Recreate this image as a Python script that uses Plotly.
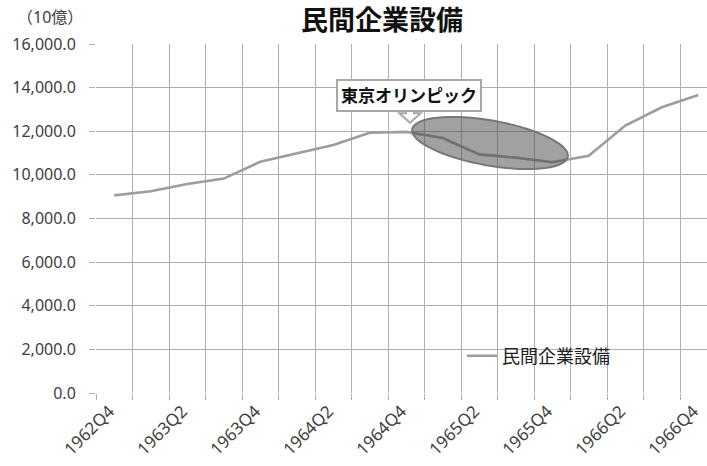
import math
import plotly.graph_objects as go

# ---- data ----
quarters = ["1962Q4", "1963Q1", "1963Q2", "1963Q3", "1963Q4", "1964Q1", "1964Q2", "1964Q3",
            "1964Q4", "1965Q1", "1965Q2", "1965Q3", "1965Q4", "1966Q1", "1966Q2", "1966Q3", "1966Q4"]
investment = [9060, 9250, 9580, 9830, 10600, 10990, 11370, 11930,
              11970, 11690, 10940, 10790, 10580, 10880, 12260, 13100, 13660]
series_name = "民間企業設備"
y_ticks = [0, 2000, 4000, 6000, 8000, 10000, 12000, 14000, 16000]

# ---- layout geometry (pixels) ----
W, H = 707, 466
L, R, T, B = 96, 0, 44, 73
PW, PH = W - L - R, H - T - B


def pp(px, py):
    """pixel -> paper coordinates"""
    return (px - L) / PW, (H - B - py) / PH


x_idx = list(range(len(quarters)))
label_idx = x_idx[::2]

font_fam = "Noto Sans, Noto Sans CJK JP, sans-serif"
grid_col = "#afafaf"

fig = go.Figure()
fig.add_trace(go.Scatter(
    x=x_idx, y=investment, mode="lines", name=series_name,
    line=dict(color="#9d9d9d", width=2.6),
))

# ellipse highlight (decorative callout)
cx, cy, a, b, th = 490, 143, 79, 22.5, math.radians(10)
pts = []
for k in range(73):
    t = 2 * math.pi * k / 72
    px = cx + a * math.cos(t) * math.cos(th) - b * math.sin(t) * math.sin(th)
    py = cy + a * math.cos(t) * math.sin(th) + b * math.sin(t) * math.cos(th)
    pts.append(pp(px, py))
path = "M " + " L ".join(f"{u:.5f},{v:.5f}" for u, v in pts) + " Z"
fig.add_shape(type="path", xref="paper", yref="paper", path=path,
              fillcolor="rgba(67,67,72,0.5)", line=dict(color="#777777", width=2), layer="above")

# down arrow under callout box
arrow_px = [(406, 109), (414, 109), (414, 113.3), (420.7, 113.3), (410, 122.7), (399.3, 113.3), (406, 113.3)]
apath = "M " + " L ".join("{:.5f},{:.5f}".format(*pp(u, v)) for u, v in arrow_px) + " Z"
fig.add_shape(type="path", xref="paper", yref="paper", path=apath,
              fillcolor="white", line=dict(color="#a8a8a8", width=2), layer="above")

bx, by = pp(409, 95)
fig.add_annotation(x=bx, y=by, xref="paper", yref="paper", showarrow=False,
                   text="<b>東京オリンピック</b>", font=dict(size=17, color="#111111", family=font_fam),
                   bgcolor="white", bordercolor="#a8a8a8", borderwidth=2, borderpad=3,
                   xanchor="center", yanchor="middle")

tx, ty = pp(382, 20)
fig.add_annotation(x=tx, y=ty, xref="paper", yref="paper", showarrow=False,
                   text="<b>民間企業設備</b>", font=dict(size=27, color="#111111", family=font_fam),
                   xanchor="center", yanchor="middle")

ux, uy = pp(50, 17)
fig.add_annotation(x=ux, y=uy, xref="paper", yref="paper", showarrow=False,
                   text="（10億）", font=dict(size=16, color="#404040", family=font_fam),
                   xanchor="center", yanchor="middle")

lx, ly = pp(462, 356)
fig.update_layout(
    width=W, height=H,
    margin=dict(l=L, r=R, t=T, b=B, autoexpand=False),
    paper_bgcolor="white", plot_bgcolor="white",
    showlegend=True,
    legend=dict(x=lx, y=ly, xanchor="left", yanchor="middle", bgcolor="rgba(0,0,0,0)",
                font=dict(size=18, color="#222222", family=font_fam), itemwidth=30),
    xaxis=dict(
        range=[-0.5, -0.5 + PW / 36.5], tickmode="array", tickvals=label_idx,
        ticktext=[quarters[i] for i in label_idx], tickangle=-45, showgrid=False,
        ticks="", zeroline=False, showline=False, automargin=False, ticklabeloverflow="allow",
        ticklabelshift=-5, ticklabelstandoff=4,
        tickfont=dict(size=17, color="#404040", family=font_fam),
        minor=dict(tickmode="linear", tick0=-0.5, dtick=1, showgrid=True, gridcolor=grid_col,
                   gridwidth=1, ticks="outside", ticklen=6, tickcolor=grid_col),
    ),
    yaxis=dict(
        range=[0, 16000], tickmode="array", tickvals=y_ticks, automargin=False,
        ticktext=[f"{v:,.1f}" for v in y_ticks], showgrid=True, gridcolor=grid_col, gridwidth=1,
        zeroline=False, ticks="outside", ticklen=6, tickcolor=grid_col, ticklabelstandoff=10,
        tickfont=dict(size=16, color="#404040", family=font_fam),
    ),
)

fig.write_html("out.html", config={"displayModeBar": False},
               post_script="document.body.style.margin='0';document.body.style.padding='0';")
